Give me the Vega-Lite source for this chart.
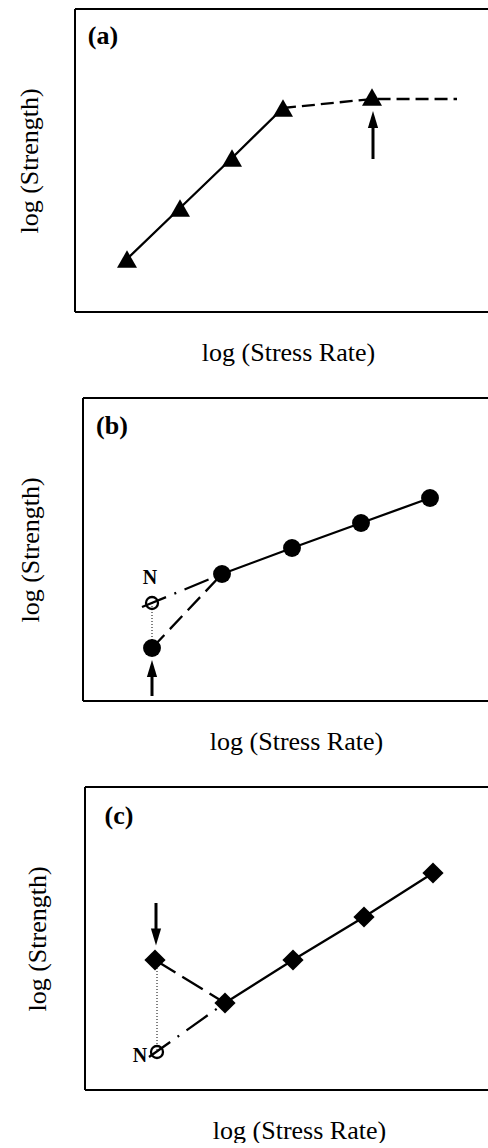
{
  "$schema": "https://vega.github.io/schema/vega-lite/v6.json",
  "background": "white",
  "padding": {"left": 16, "top": 8, "right": 0, "bottom": 0},
  "spacing": 32,
  "config": {
    "view": {"stroke": null},
    "axis": {"labels": false, "ticks": false, "grid": false, "domain": false, "titleFont": "Liberation Serif", "titleFontSize": 26, "titleFontWeight": "normal", "titleColor": "black", "minExtent": 0},
    "text": {"font": "Liberation Serif", "color": "black"}
  },
  "datasets": {
    "a_pts": [{"x": 52, "y": 53}, {"x": 105, "y": 104}, {"x": 157, "y": 154}, {"x": 208, "y": 204}, {"x": 297, "y": 215}],
    "a_lines": [
      {"seg": "solid", "i": 1, "x": 52, "y": 53}, {"seg": "solid", "i": 2, "x": 105, "y": 104}, {"seg": "solid", "i": 3, "x": 157, "y": 154}, {"seg": "solid", "i": 4, "x": 208, "y": 204},
      {"seg": "dashed", "i": 1, "x": 208, "y": 204}, {"seg": "dashed", "i": 2, "x": 297, "y": 213}, {"seg": "dashed", "i": 3, "x": 382, "y": 213}
    ],
    "a_arrow": [{"x": 298, "tail": 153, "head": 192.5}],
    "b_pts": [{"x": 77, "y": 53}, {"x": 147, "y": 127}, {"x": 217, "y": 153}, {"x": 286, "y": 178}, {"x": 355, "y": 203}],
    "b_open": [{"x": 77, "y": 98}],
    "b_lines": [
      {"seg": "solid", "i": 1, "x": 147, "y": 127}, {"seg": "solid", "i": 2, "x": 217, "y": 153}, {"seg": "solid", "i": 3, "x": 286, "y": 178}, {"seg": "solid", "i": 4, "x": 355, "y": 203},
      {"seg": "dashed", "i": 1, "x": 77, "y": 53}, {"seg": "dashed", "i": 2, "x": 147, "y": 127},
      {"seg": "dashdot", "i": 1, "x": 67, "y": 94}, {"seg": "dashdot", "i": 2, "x": 147, "y": 127},
      {"seg": "dotted", "i": 1, "x": 77, "y": 98}, {"seg": "dotted", "i": 2, "x": 77, "y": 53}
    ],
    "b_arrow": [{"x": 77, "tail": 5, "head": 32.5}],
    "c_pts": [{"x": 80, "y": 130}, {"x": 150, "y": 87}, {"x": 218, "y": 130}, {"x": 289, "y": 173}, {"x": 358, "y": 217}],
    "c_open": [{"x": 82, "y": 38}],
    "c_lines": [
      {"seg": "solid", "i": 1, "x": 150, "y": 87}, {"seg": "solid", "i": 2, "x": 218, "y": 130}, {"seg": "solid", "i": 3, "x": 289, "y": 173}, {"seg": "solid", "i": 4, "x": 358, "y": 217},
      {"seg": "dashed", "i": 1, "x": 80, "y": 130}, {"seg": "dashed", "i": 2, "x": 150, "y": 87},
      {"seg": "dashdot", "i": 1, "x": 74, "y": 33}, {"seg": "dashdot", "i": 2, "x": 150, "y": 87},
      {"seg": "dotted", "i": 1, "x": 82, "y": 128}, {"seg": "dotted", "i": 2, "x": 82, "y": 40}
    ],
    "c_arrow": [{"x": 81, "tail": 187, "head": 153}]
  },
  "vconcat": [
    {
      "width": 413, "height": 303,
      "layer": [
        {"data": {"values": [{}]}, "mark": {"type": "rule", "strokeWidth": 2, "color": "black"},
         "encoding": {
           "x": {"datum": 0, "type": "quantitative", "scale": {"domain": [0, 413], "nice": false, "zero": false}, "axis": {"title": "log (Stress Rate)", "titlePadding": 27, "titleX": 213}},
           "y": {"datum": 0, "type": "quantitative", "scale": {"domain": [0, 303], "nice": false, "zero": false}, "axis": {"title": "log (Strength)", "titlePadding": 33}},
           "y2": {"datum": 303}}},
        {"data": {"values": [{}]}, "mark": {"type": "rule", "strokeWidth": 2, "color": "black"},
         "encoding": {"x": {"datum": 0}, "x2": {"datum": 413}, "y": {"datum": 303}}},
        {"data": {"values": [{}]}, "mark": {"type": "rule", "strokeWidth": 2, "color": "black"},
         "encoding": {"x": {"datum": 0}, "x2": {"datum": 413}, "y": {"datum": 0}}},
        {"data": {"name": "a_lines"}, "transform": [{"filter": "datum.seg === 'solid'"}],
         "mark": {"type": "line", "color": "black", "strokeWidth": 2.3},
         "encoding": {"x": {"field": "x", "type": "quantitative"}, "y": {"field": "y", "type": "quantitative"}, "order": {"field": "i"}}},
        {"data": {"name": "a_lines"}, "transform": [{"filter": "datum.seg === 'dashed'"}],
         "mark": {"type": "line", "color": "black", "strokeWidth": 2.3, "strokeDash": [13, 6]},
         "encoding": {"x": {"field": "x", "type": "quantitative"}, "y": {"field": "y", "type": "quantitative"}, "order": {"field": "i"}}},
        {"data": {"name": "a_pts"}, "mark": {"type": "point", "shape": "triangle-up", "filled": true, "size": 400, "color": "black", "opacity": 1},
         "encoding": {"x": {"field": "x", "type": "quantitative"}, "y": {"field": "y", "type": "quantitative"}}},
        {"data": {"name": "a_arrow"}, "mark": {"type": "rule", "strokeWidth": 3, "color": "black"},
         "encoding": {"x": {"field": "x", "type": "quantitative"}, "y": {"field": "tail", "type": "quantitative"}, "y2": {"field": "head"}}},
        {"data": {"name": "a_arrow"}, "mark": {"type": "point", "shape": "M0,-1L-0.6,1L0.6,1Z", "filled": true, "size": 289, "color": "black", "opacity": 1},
         "encoding": {"x": {"field": "x", "type": "quantitative"}, "y": {"field": "head", "type": "quantitative"}}},
        {"data": {"values": [{}]}, "mark": {"type": "text", "text": "(a)", "fontSize": 26, "fontWeight": "bold", "font": "Liberation Serif", "color": "black"},
         "encoding": {"x": {"datum": 28}, "y": {"datum": 276}}}
      ]
    },
    {
      "width": 413, "height": 303,
      "layer": [
        {"data": {"values": [{}]}, "mark": {"type": "rule", "strokeWidth": 2, "color": "black"},
         "encoding": {
           "x": {"datum": 8, "type": "quantitative", "scale": {"domain": [0, 413], "nice": false, "zero": false}, "axis": {"title": "log (Stress Rate)", "titlePadding": 27, "titleX": 221}},
           "y": {"datum": 0, "type": "quantitative", "scale": {"domain": [0, 303], "nice": false, "zero": false}, "axis": {"title": "log (Strength)", "titlePadding": 32}},
           "y2": {"datum": 303}}},
        {"data": {"values": [{}]}, "mark": {"type": "rule", "strokeWidth": 2, "color": "black"},
         "encoding": {"x": {"datum": 8}, "x2": {"datum": 413}, "y": {"datum": 303}}},
        {"data": {"values": [{}]}, "mark": {"type": "rule", "strokeWidth": 2, "color": "black"},
         "encoding": {"x": {"datum": 8}, "x2": {"datum": 413}, "y": {"datum": 0}}},
        {"data": {"name": "b_lines"}, "transform": [{"filter": "datum.seg === 'solid'"}],
         "mark": {"type": "line", "color": "black", "strokeWidth": 2.3},
         "encoding": {"x": {"field": "x", "type": "quantitative"}, "y": {"field": "y", "type": "quantitative"}, "order": {"field": "i"}}},
        {"data": {"name": "b_lines"}, "transform": [{"filter": "datum.seg === 'dashed'"}],
         "mark": {"type": "line", "color": "black", "strokeWidth": 2.3, "strokeDash": [18, 8]},
         "encoding": {"x": {"field": "x", "type": "quantitative"}, "y": {"field": "y", "type": "quantitative"}, "order": {"field": "i"}}},
        {"data": {"name": "b_lines"}, "transform": [{"filter": "datum.seg === 'dashdot'"}],
         "mark": {"type": "line", "color": "black", "strokeWidth": 2.3, "strokeDash": [26, 9, 2, 9]},
         "encoding": {"x": {"field": "x", "type": "quantitative"}, "y": {"field": "y", "type": "quantitative"}, "order": {"field": "i"}}},
        {"data": {"name": "b_lines"}, "transform": [{"filter": "datum.seg === 'dotted'"}],
         "mark": {"type": "line", "color": "black", "strokeWidth": 1, "strokeDash": [1, 2]},
         "encoding": {"x": {"field": "x", "type": "quantitative"}, "y": {"field": "y", "type": "quantitative"}, "order": {"field": "i"}}},
        {"data": {"name": "b_pts"}, "mark": {"type": "point", "shape": "circle", "filled": true, "size": 320, "color": "black", "opacity": 1},
         "encoding": {"x": {"field": "x", "type": "quantitative"}, "y": {"field": "y", "type": "quantitative"}}},
        {"data": {"name": "b_open"}, "mark": {"type": "point", "shape": "circle", "filled": false, "size": 144, "strokeWidth": 2.3, "color": "black", "opacity": 1},
         "encoding": {"x": {"field": "x", "type": "quantitative"}, "y": {"field": "y", "type": "quantitative"}}},
        {"data": {"name": "b_arrow"}, "mark": {"type": "rule", "strokeWidth": 3, "color": "black"},
         "encoding": {"x": {"field": "x", "type": "quantitative"}, "y": {"field": "tail", "type": "quantitative"}, "y2": {"field": "head"}}},
        {"data": {"name": "b_arrow"}, "mark": {"type": "point", "shape": "M0,-1L-0.6,1L0.6,1Z", "filled": true, "size": 289, "color": "black", "opacity": 1},
         "encoding": {"x": {"field": "x", "type": "quantitative"}, "y": {"field": "head", "type": "quantitative"}}},
        {"data": {"values": [{}]}, "mark": {"type": "text", "text": "(b)", "fontSize": 26, "fontWeight": "bold", "font": "Liberation Serif", "color": "black"},
         "encoding": {"x": {"datum": 37}, "y": {"datum": 275}}},
        {"data": {"values": [{}]}, "mark": {"type": "text", "text": "N", "fontSize": 20, "fontWeight": "bold", "font": "Liberation Serif", "color": "black"},
         "encoding": {"x": {"datum": 75}, "y": {"datum": 123}}}
      ]
    },
    {
      "width": 413, "height": 303,
      "layer": [
        {"data": {"values": [{}]}, "mark": {"type": "rule", "strokeWidth": 2, "color": "black"},
         "encoding": {
           "x": {"datum": 10, "type": "quantitative", "scale": {"domain": [0, 413], "nice": false, "zero": false}, "axis": {"title": "log (Stress Rate)", "titlePadding": 27, "titleX": 224}},
           "y": {"datum": 0, "type": "quantitative", "scale": {"domain": [0, 303], "nice": false, "zero": false}, "axis": {"title": "log (Strength)", "titlePadding": 25}},
           "y2": {"datum": 303}}},
        {"data": {"values": [{}]}, "mark": {"type": "rule", "strokeWidth": 2, "color": "black"},
         "encoding": {"x": {"datum": 10}, "x2": {"datum": 413}, "y": {"datum": 303}}},
        {"data": {"values": [{}]}, "mark": {"type": "rule", "strokeWidth": 2, "color": "black"},
         "encoding": {"x": {"datum": 10}, "x2": {"datum": 413}, "y": {"datum": 0}}},
        {"data": {"name": "c_lines"}, "transform": [{"filter": "datum.seg === 'solid'"}],
         "mark": {"type": "line", "color": "black", "strokeWidth": 2.3},
         "encoding": {"x": {"field": "x", "type": "quantitative"}, "y": {"field": "y", "type": "quantitative"}, "order": {"field": "i"}}},
        {"data": {"name": "c_lines"}, "transform": [{"filter": "datum.seg === 'dashed'"}],
         "mark": {"type": "line", "color": "black", "strokeWidth": 2.3, "strokeDash": [24, 8]},
         "encoding": {"x": {"field": "x", "type": "quantitative"}, "y": {"field": "y", "type": "quantitative"}, "order": {"field": "i"}}},
        {"data": {"name": "c_lines"}, "transform": [{"filter": "datum.seg === 'dashdot'"}],
         "mark": {"type": "line", "color": "black", "strokeWidth": 2.3, "strokeDash": [26, 9, 2, 9]},
         "encoding": {"x": {"field": "x", "type": "quantitative"}, "y": {"field": "y", "type": "quantitative"}, "order": {"field": "i"}}},
        {"data": {"name": "c_lines"}, "transform": [{"filter": "datum.seg === 'dotted'"}],
         "mark": {"type": "line", "color": "black", "strokeWidth": 1, "strokeDash": [1, 2]},
         "encoding": {"x": {"field": "x", "type": "quantitative"}, "y": {"field": "y", "type": "quantitative"}, "order": {"field": "i"}}},
        {"data": {"name": "c_pts"}, "mark": {"type": "point", "shape": "diamond", "filled": true, "size": 450, "color": "black", "opacity": 1},
         "encoding": {"x": {"field": "x", "type": "quantitative"}, "y": {"field": "y", "type": "quantitative"}}},
        {"data": {"name": "c_open"}, "mark": {"type": "point", "shape": "circle", "filled": false, "size": 144, "strokeWidth": 2.3, "color": "black", "opacity": 1},
         "encoding": {"x": {"field": "x", "type": "quantitative"}, "y": {"field": "y", "type": "quantitative"}}},
        {"data": {"name": "c_arrow"}, "mark": {"type": "rule", "strokeWidth": 3, "color": "black"},
         "encoding": {"x": {"field": "x", "type": "quantitative"}, "y": {"field": "tail", "type": "quantitative"}, "y2": {"field": "head"}}},
        {"data": {"name": "c_arrow"}, "mark": {"type": "point", "shape": "M0,1L-0.6,-1L0.6,-1Z", "filled": true, "size": 289, "color": "black", "opacity": 1},
         "encoding": {"x": {"field": "x", "type": "quantitative"}, "y": {"field": "head", "type": "quantitative"}}},
        {"data": {"values": [{}]}, "mark": {"type": "text", "text": "(c)", "fontSize": 26, "fontWeight": "bold", "font": "Liberation Serif", "color": "black"},
         "encoding": {"x": {"datum": 44}, "y": {"datum": 274}}},
        {"data": {"values": [{}]}, "mark": {"type": "text", "text": "N", "fontSize": 20, "fontWeight": "bold", "font": "Liberation Serif", "color": "black"},
         "encoding": {"x": {"datum": 65}, "y": {"datum": 34}}}
      ]
    }
  ]
}
